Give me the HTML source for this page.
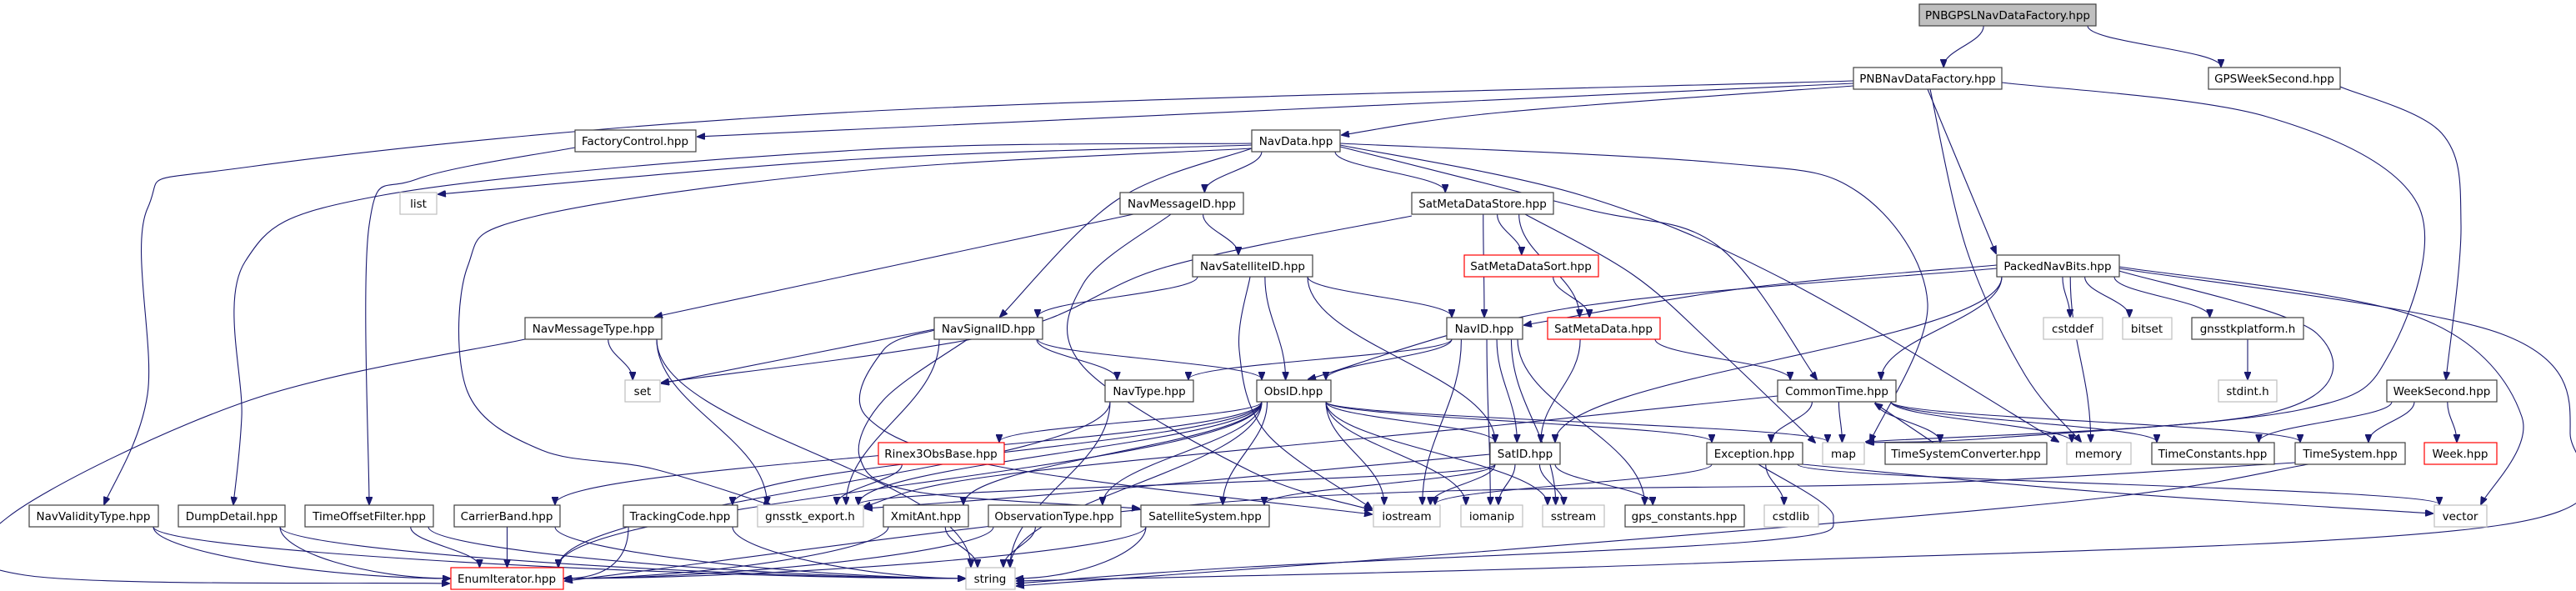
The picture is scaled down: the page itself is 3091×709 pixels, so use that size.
<!DOCTYPE html>
<html><head><meta charset="utf-8"><style>
html,body{margin:0;padding:0;background:#fff;}
svg{display:block;}
text{font-family:"DejaVu Sans","Liberation Sans",sans-serif;font-size:13.5px;fill:#000;text-anchor:middle;}
</style></head><body>
<svg id="g" width="3091" height="709" viewBox="0 0 3091 709" xmlns="http://www.w3.org/2000/svg">
<defs><marker id="ah" markerWidth="10" markerHeight="8" refX="9" refY="4" orient="auto" markerUnits="userSpaceOnUse"><path d="M0,0 L10,4 L0,8 z" fill="#191970" stroke="#191970"/></marker></defs>
<g id="edges" fill="none" stroke="#191970" stroke-width="1.1"></g>
<g id="nodes">
<rect x="2303" y="5" width="212" height="26" fill="#bfbfbf" stroke="#404040" stroke-width="1.2"/><text x="2409" y="23">PNBGPSLNavDataFactory.hpp</text>
<rect x="2224" y="81" width="178" height="26" fill="#fff" stroke="#404040" stroke-width="1.2"/><text x="2313" y="99">PNBNavDataFactory.hpp</text>
<rect x="2650" y="81" width="158" height="26" fill="#fff" stroke="#404040" stroke-width="1.2"/><text x="2729" y="99">GPSWeekSecond.hpp</text>
<rect x="690" y="156" width="145" height="26" fill="#fff" stroke="#404040" stroke-width="1.2"/><text x="762" y="174">FactoryControl.hpp</text>
<rect x="1502" y="156" width="106" height="26" fill="#fff" stroke="#404040" stroke-width="1.2"/><text x="1555" y="174">NavData.hpp</text>
<rect x="480" y="231" width="44" height="26" fill="#fff" stroke="#bfbfbf" stroke-width="1.2"/><text x="502" y="249">list</text>
<rect x="1344" y="231" width="148" height="26" fill="#fff" stroke="#404040" stroke-width="1.2"/><text x="1418" y="249">NavMessageID.hpp</text>
<rect x="1694" y="231" width="170" height="26" fill="#fff" stroke="#404040" stroke-width="1.2"/><text x="1779" y="249">SatMetaDataStore.hpp</text>
<rect x="1431" y="306" width="144" height="26" fill="#fff" stroke="#404040" stroke-width="1.2"/><text x="1503" y="324">NavSatelliteID.hpp</text>
<rect x="1757" y="306" width="161" height="26" fill="#fff" stroke="#ff0000" stroke-width="1.2"/><text x="1837" y="324">SatMetaDataSort.hpp</text>
<rect x="2396" y="306" width="147" height="26" fill="#fff" stroke="#404040" stroke-width="1.2"/><text x="2469" y="324">PackedNavBits.hpp</text>
<rect x="630" y="381" width="164" height="26" fill="#fff" stroke="#404040" stroke-width="1.2"/><text x="712" y="399">NavMessageType.hpp</text>
<rect x="1121" y="381" width="130" height="26" fill="#fff" stroke="#404040" stroke-width="1.2"/><text x="1186" y="399">NavSignalID.hpp</text>
<rect x="1736" y="381" width="91" height="26" fill="#fff" stroke="#404040" stroke-width="1.2"/><text x="1781" y="399">NavID.hpp</text>
<rect x="1857" y="381" width="135" height="26" fill="#fff" stroke="#ff0000" stroke-width="1.2"/><text x="1924" y="399">SatMetaData.hpp</text>
<rect x="2452" y="381" width="71" height="26" fill="#fff" stroke="#bfbfbf" stroke-width="1.2"/><text x="2487" y="399">cstddef</text>
<rect x="2547" y="381" width="59" height="26" fill="#fff" stroke="#bfbfbf" stroke-width="1.2"/><text x="2576" y="399">bitset</text>
<rect x="2630" y="381" width="134" height="26" fill="#fff" stroke="#404040" stroke-width="1.2"/><text x="2697" y="399">gnsstkplatform.h</text>
<rect x="750" y="456" width="42" height="26" fill="#fff" stroke="#bfbfbf" stroke-width="1.2"/><text x="771" y="474">set</text>
<rect x="1326" y="456" width="106" height="26" fill="#fff" stroke="#404040" stroke-width="1.2"/><text x="1379" y="474">NavType.hpp</text>
<rect x="1508" y="456" width="89" height="26" fill="#fff" stroke="#404040" stroke-width="1.2"/><text x="1552" y="474">ObsID.hpp</text>
<rect x="2133" y="456" width="142" height="26" fill="#fff" stroke="#404040" stroke-width="1.2"/><text x="2204" y="474">CommonTime.hpp</text>
<rect x="2662" y="456" width="70" height="26" fill="#fff" stroke="#bfbfbf" stroke-width="1.2"/><text x="2697" y="474">stdint.h</text>
<rect x="2864" y="456" width="132" height="26" fill="#fff" stroke="#404040" stroke-width="1.2"/><text x="2930" y="474">WeekSecond.hpp</text>
<rect x="1054" y="531" width="151" height="26" fill="#fff" stroke="#ff0000" stroke-width="1.2"/><text x="1129" y="549">Rinex3ObsBase.hpp</text>
<rect x="1788" y="531" width="84" height="26" fill="#fff" stroke="#404040" stroke-width="1.2"/><text x="1830" y="549">SatID.hpp</text>
<rect x="2048" y="531" width="115" height="26" fill="#fff" stroke="#404040" stroke-width="1.2"/><text x="2105" y="549">Exception.hpp</text>
<rect x="2187" y="531" width="50" height="26" fill="#fff" stroke="#bfbfbf" stroke-width="1.2"/><text x="2212" y="549">map</text>
<rect x="2262" y="531" width="194" height="26" fill="#fff" stroke="#404040" stroke-width="1.2"/><text x="2359" y="549">TimeSystemConverter.hpp</text>
<rect x="2480" y="531" width="77" height="26" fill="#fff" stroke="#bfbfbf" stroke-width="1.2"/><text x="2518" y="549">memory</text>
<rect x="2582" y="531" width="147" height="26" fill="#fff" stroke="#404040" stroke-width="1.2"/><text x="2655" y="549">TimeConstants.hpp</text>
<rect x="2754" y="531" width="132" height="26" fill="#fff" stroke="#404040" stroke-width="1.2"/><text x="2820" y="549">TimeSystem.hpp</text>
<rect x="2909" y="531" width="87" height="26" fill="#fff" stroke="#ff0000" stroke-width="1.2"/><text x="2952" y="549">Week.hpp</text>
<rect x="35" y="606" width="155" height="26" fill="#fff" stroke="#404040" stroke-width="1.2"/><text x="112" y="624">NavValidityType.hpp</text>
<rect x="214" y="606" width="128" height="26" fill="#fff" stroke="#404040" stroke-width="1.2"/><text x="278" y="624">DumpDetail.hpp</text>
<rect x="366" y="606" width="154" height="26" fill="#fff" stroke="#404040" stroke-width="1.2"/><text x="443" y="624">TimeOffsetFilter.hpp</text>
<rect x="545" y="606" width="127" height="26" fill="#fff" stroke="#404040" stroke-width="1.2"/><text x="608" y="624">CarrierBand.hpp</text>
<rect x="748" y="606" width="137" height="26" fill="#fff" stroke="#404040" stroke-width="1.2"/><text x="816" y="624">TrackingCode.hpp</text>
<rect x="909" y="606" width="127" height="26" fill="#fff" stroke="#bfbfbf" stroke-width="1.2"/><text x="972" y="624">gnsstk_export.h</text>
<rect x="1060" y="606" width="102" height="26" fill="#fff" stroke="#404040" stroke-width="1.2"/><text x="1111" y="624">XmitAnt.hpp</text>
<rect x="1186" y="606" width="159" height="26" fill="#fff" stroke="#404040" stroke-width="1.2"/><text x="1265" y="624">ObservationType.hpp</text>
<rect x="1369" y="606" width="154" height="26" fill="#fff" stroke="#404040" stroke-width="1.2"/><text x="1446" y="624">SatelliteSystem.hpp</text>
<rect x="1648" y="606" width="80" height="26" fill="#fff" stroke="#bfbfbf" stroke-width="1.2"/><text x="1688" y="624">iostream</text>
<rect x="1753" y="606" width="74" height="26" fill="#fff" stroke="#bfbfbf" stroke-width="1.2"/><text x="1790" y="624">iomanip</text>
<rect x="1851" y="606" width="74" height="26" fill="#fff" stroke="#bfbfbf" stroke-width="1.2"/><text x="1888" y="624">sstream</text>
<rect x="1950" y="606" width="143" height="26" fill="#fff" stroke="#404040" stroke-width="1.2"/><text x="2021" y="624">gps_constants.hpp</text>
<rect x="2117" y="606" width="65" height="26" fill="#fff" stroke="#bfbfbf" stroke-width="1.2"/><text x="2149" y="624">cstdlib</text>
<rect x="2921" y="606" width="63" height="26" fill="#fff" stroke="#bfbfbf" stroke-width="1.2"/><text x="2952" y="624">vector</text>
<rect x="541" y="681" width="135" height="26" fill="#fff" stroke="#ff0000" stroke-width="1.2"/><text x="608" y="699">EnumIterator.hpp</text>
<rect x="1159" y="681" width="59" height="26" fill="#fff" stroke="#bfbfbf" stroke-width="1.2"/><text x="1188" y="699">string</text>
</g>
</svg>
<script>
var N={A:[2303,5,2515,31],B:[2224,81,2402,107],C:[2650,81,2808,107],FC:[690,156,835,182],ND:[1502,156,1608,182],list:[480,231,524,257],NMI:[1344,231,1492,257],SMS:[1694,231,1864,257],NSI:[1431,306,1575,332],SMSort:[1757,306,1918,332],PNB:[2396,306,2543,332],NMT:[630,381,794,407],NSig:[1121,381,1251,407],NID:[1736,381,1827,407],SMD:[1857,381,1992,407],cstddef:[2452,381,2523,407],bitset:[2547,381,2606,407],gplat:[2630,381,2764,407],set:[750,456,792,482],NT:[1326,456,1432,482],OID:[1508,456,1597,482],CT:[2133,456,2275,482],stdint:[2662,456,2732,482],WS:[2864,456,2996,482],R3:[1054,531,1205,557],SID:[1788,531,1872,557],EXC:[2048,531,2163,557],map:[2187,531,2237,557],TSC:[2262,531,2456,557],memory:[2480,531,2557,557],TC:[2582,531,2729,557],TS:[2754,531,2886,557],Week:[2909,531,2996,557],NVT:[35,606,190,632],DD:[214,606,342,632],TOF:[366,606,520,632],CB:[545,606,672,632],TRC:[748,606,885,632],gexp:[909,606,1036,632],XA:[1060,606,1162,632],OT:[1186,606,1345,632],SS:[1369,606,1523,632],ios:[1648,606,1728,632],iom:[1753,606,1827,632],sst:[1851,606,1925,632],gpsc:[1950,606,2093,632],cstdlib:[2117,606,2182,632],vector:[2921,606,2984,632],EI:[541,681,676,707],str:[1159,681,1218,707]};
var E=[
"A B","A C","PNB cstddef","PNB bitset","PNB gplat","PNB SID","PNB CT","PNB memory","gplat stdint",
"ND NMI","ND SMS","NMI NSI","SMS NID","SMS SMSort","SMS SMD","SMSort SMD","SMD SID","SMD CT",
"NSI NSig","NSI NID","NSI OID","NSI SID","NSig NT","NSig OID","NSig gexp",
"NMT set","NMT gexp","NMT str",
"NID NT","NID OID","NID SID","NID ios","NID iom","NID sst","NID gpsc",
"NT str","NT EI",
"OID R3","OID SID","OID XA","OID OT","OID ios","OID iom","OID sst","OID str","OID CB","OID TRC","OID EI","OID gexp","OID map","OID EXC","OID SS",
"SID ios","SID iom","SID sst","SID gpsc","SID gexp","SID SS",
"CT EXC","CT TSC","CT memory","CT TC","CT TS","CT map",
"WS TC","WS TS","WS Week",
"EXC cstdlib","EXC vector","EXC ios",
"R3 gexp",
"NVT EI","NVT str","DD EI","DD str","TOF EI","TOF str","CB EI","CB str","TRC EI","TRC str","XA str","XA EI","OT str","OT EI","SS str","SS EI"
];
var P=[
[[2224,97],[1030,134],[300,200],[177,250],[177,473],[125,605]],
[[2224,100],[1030,155],[837,164]],
[[2224,103],[1800,135],[1610,162]],
[[2316,107],[2360,300],[2430,450],[2497,530]],
[[2402,99],[2720,140],[2901,245],[2868,423],[2763,491],[2400,525],[2240,531]],
[[2313,107],[2395,304]],
[[2808,104],[2930,160],[2953,270],[2935,455]],
[[690,177],[500,215],[443,270],[443,605]],
[[1502,172],[1030,180],[460,234],[294,314],[290,500],[280,605]],
[[1502,174],[1030,191],[526,233]],
[[1502,178],[1030,205],[640,260],[561,320],[561,470],[650,540],[782,562],[925,606]],
[[1608,172],[2060,195],[2229,230],[2313,364],[2244,530]],
[[1608,176],[1900,250],[2060,294],[2180,455]],
[[1608,174],[1900,235],[2150,340],[2470,530]],
[[1502,178],[1340,240],[1200,380]],
[[1360,257],[786,380]],
[[1405,257],[1300,340],[1300,440],[1500,565],[1646,612]],
[[1694,259],[1400,320],[1200,400],[794,459]],
[[1830,257],[1960,330],[2060,418],[2178,531]],
[[1500,332],[1487,420],[1520,520],[1646,610]],
[[1121,395],[794,460]],
[[1161,407],[1060,480],[1032,550],[1100,590],[1367,610]],
[[630,407],[300,480],[10,620],[30,690],[539,700]],
[[2396,318],[2100,345],[1829,390]],
[[2396,322],[1880,370],[1570,455]],
[[2543,325],[2780,400],[2725,495],[2239,530]],
[[2543,322],[3000,400],[3084,520],[3000,630],[2060,675],[1220,697]],
[[2543,320],[2900,380],[3026,500],[2977,605]],
[[2320,531],[2250,484]],
[[2133,475],[1800,510],[1200,570],[1036,608]],
[[2163,557],[2520,590],[2919,616]],
[[2110,557],[2200,620],[2100,650],[1500,680],[1220,700]],
[[2754,555],[2300,580],[1500,600],[678,697]],
[[2770,557],[2500,600],[1800,660],[1220,703]],
[[1788,545],[1300,590],[1038,610]],
[[1121,396],[1060,420],[1040,500],[1200,560],[1646,617]]
];
var g=document.getElementById('edges'),ns='http://www.w3.org/2000/svg';
function add(d){var p=document.createElementNS(ns,'path');p.setAttribute('d',d);p.setAttribute('marker-end','url(#ah)');g.appendChild(p);}
function cl(v,a,b){return Math.max(a,Math.min(b,v));}
E.forEach(function(e){var k=e.split(' '),s=N[k[0]],t=N[k[1]];
var scx=(s[0]+s[2])/2,tcx=(t[0]+t[2])/2;
var sx=cl(scx+(tcx-scx)*0.3,s[0]+6,s[2]-6),sy=s[3];
var dy=t[1]-sy,dx=tcx-scx,ex,ey,d;
var side=(k[1]=='EI'||k[1]=='str')&&Math.abs(dx)>4*Math.max(dy,20)&&dy<100;
if(side){
 ex=dx>0?t[0]-1:t[2]+1;ey=(t[1]+t[3])/2;
 d='M'+sx+','+sy+' C'+sx+','+(sy+dy*0.6)+' '+(ex-dx*0.3)+','+ey+' '+ex+','+ey;
}else{
 ex=cl(tcx+(scx-tcx)*0.2,t[0]+6,t[2]-6);ey=t[1]-1;
 d='M'+sx+','+sy+' C'+sx+','+(sy+dy*0.4)+' '+ex+','+(ey-dy*0.4)+' '+ex+','+ey;
}
add(d);});
P.forEach(function(pts){var d='M'+pts[0][0]+','+pts[0][1];
for(var i=0;i<pts.length-1;i++){var p0=pts[i-1]||pts[i],p1=pts[i],p2=pts[i+1],p3=pts[i+2]||p2;
var c1=[p1[0]+(p2[0]-p0[0])/6,p1[1]+(p2[1]-p0[1])/6],c2=[p2[0]-(p3[0]-p1[0])/6,p2[1]-(p3[1]-p1[1])/6];
d+=' C'+c1[0]+','+c1[1]+' '+c2[0]+','+c2[1]+' '+p2[0]+','+p2[1];}
add(d);});
</script>
</body></html>
